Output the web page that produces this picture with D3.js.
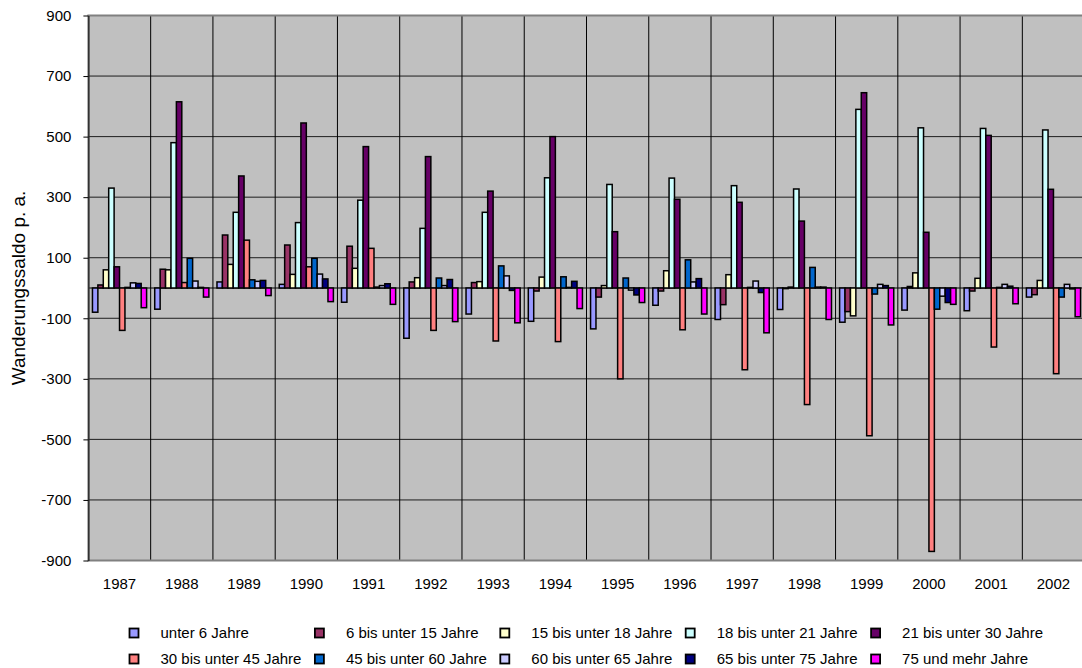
<!DOCTYPE html>
<html>
<head>
<meta charset="utf-8">
<script src="https://cdn.jsdelivr.net/npm/d3@7"></script>
<style>
  body { margin: 0; background: #fff; }
  svg { display: block; font-family: "Liberation Sans", Arial, sans-serif; }
  .tick text { font-size: 15px; fill: #000; }
</style>
</head>
<body>
<svg id="chart" width="1082" height="668"></svg>
<script>
// Wanderungssaldo nach Altersgruppen
const years = ['1987','1988','1989','1990','1991','1992','1993','1994',
               '1995','1996','1997','1998','1999','2000','2001','2002'];

const seriesNames = ['unter 6 Jahre', '6 bis unter 15 Jahre', '15 bis unter 18 Jahre',
  '18 bis unter 21 Jahre', '21 bis unter 30 Jahre', '30 bis unter 45 Jahre',
  '45 bis unter 60 Jahre', '60 bis unter 65 Jahre', '65 bis unter 75 Jahre', '75 und mehr Jahre'];

const seriesColors = ['#9999FF','#993366','#FFFFCC','#CCFFFF','#660066',
                      '#FF8080','#0066CC','#CCCCFF','#000080','#FF00FF'];

const unter6   = [-80, -70, 20, 12, -47, -166, -86, -110, -135, -57, -104, -71, -113, -73, -75, -30];
const bis15    = [10, 62, 175, 142, 138, 20, 18, -10, -30, -10, -55, -2, -78, 5, -10, -22];
const bis18    = [60, 60, 78, 45, 65, 34, 21, 36, 8, 57, 44, 3, -92, 50, 32, 25];
const bis21    = [330, 480, 250, 216, 290, 197, 250, 364, 342, 363, 338, 327, 590, 529, 527, 522];
const bis30    = [70, 615, 370, 545, 467, 434, 320, 500, 186, 293, 283, 221, 645, 184, 504, 326];
const bis45    = [-140, 18, 158, 70, 131, -140, -175, -177, -300, -138, -270, -385, -488, -870, -195, -283];
const bis60    = [2, 98, 27, 98, 3, 33, 73, 37, 33, 93, 2, 68, -20, -70, 2, -30];
const bis65    = [17, 23, 22, 46, 8, 8, 40, 2, -7, 20, 23, 3, 12, -27, 12, 12];
const bis75    = [15, 2, 25, 30, 14, 28, -8, 22, -23, 31, -15, 3, 8, -48, 6, -3];
const ab75     = [-65, -30, -25, -45, -54, -111, -115, -68, -48, -86, -148, -104, -122, -54, -52, -95];

const seriesValues = [unter6, bis15, bis18, bis21, bis30, bis45, bis60, bis65, bis75, ab75];

const yTicks = [-900, -700, -500, -300, -100, 100, 300, 500, 700, 900];

// layout
const svg = d3.select('#chart');
const plot = {left: 88.4, right: 1084.6, top: 15.5, bottom: 560.5};

const xScale = d3.scaleBand().domain(years).range([plot.left, plot.right]).padding(0);
const xInner = d3.scaleBand().domain(d3.range(seriesNames.length))
                 .range([0, xScale.bandwidth()]).paddingInner(0).paddingOuter(0.75);
const yScale = d3.scaleLinear().domain([-900, 900]).range([plot.bottom, plot.top]);

// plot background
svg.append('rect')
   .attr('x', plot.left).attr('y', plot.top)
   .attr('width', plot.right - plot.left).attr('height', plot.bottom - plot.top)
   .attr('fill', '#C0C0C0');

// horizontal gridlines
svg.append('g').selectAll('line')
   .data(yTicks.filter(d => d > -900 && d < 900))
   .join('line')
   .attr('x1', plot.left).attr('x2', plot.right)
   .attr('y1', d => yScale(d)).attr('y2', d => yScale(d))
   .attr('stroke', '#000').attr('stroke-width', 1).attr('stroke-opacity', 0.85);

// vertical gridlines (category boundaries)
svg.append('g').selectAll('line')
   .data(years.slice(1))
   .join('line')
   .attr('x1', d => xScale(d)).attr('x2', d => xScale(d))
   .attr('y1', plot.top).attr('y2', plot.bottom)
   .attr('stroke', '#000').attr('stroke-width', 1);

// zero line
svg.append('line')
   .attr('x1', plot.left).attr('x2', plot.right)
   .attr('y1', yScale(0)).attr('y2', yScale(0))
   .attr('stroke', '#000').attr('stroke-width', 1);

// bars
const groups = svg.append('g').selectAll('g')
   .data(years)
   .join('g')
   .attr('transform', d => `translate(${xScale(d)},0)`);

groups.selectAll('rect')
   .data((d, yi) => seriesValues.map((vals, si) => ({si, v: vals[yi]})))
   .join('rect')
   .attr('x', d => xInner(d.si))
   .attr('width', xInner.bandwidth())
   .attr('y', d => yScale(Math.max(0, d.v)))
   .attr('height', d => Math.abs(yScale(d.v) - yScale(0)))
   .attr('fill', d => seriesColors[d.si])
   .attr('stroke', '#000').attr('stroke-width', 1.5);

// plot border top/bottom
svg.append('rect')
   .attr('x', plot.left).attr('y', plot.top)
   .attr('width', plot.right - plot.left).attr('height', plot.bottom - plot.top)
   .attr('fill', 'none').attr('stroke', '#808080').attr('stroke-width', 2);

// y axis
const yAxis = d3.axisLeft(yScale).tickValues(yTicks).tickFormat(d => String(d))
                .tickSize(5).tickSizeOuter(0).tickPadding(12);
const yAxisG = svg.append('g').attr('transform', `translate(${plot.left},0)`).call(yAxis);
yAxisG.select('.domain').attr('stroke', '#000');
yAxisG.selectAll('.tick line').attr('stroke', '#000');

// x axis labels
const xAxis = d3.axisBottom(xScale).tickSize(0).tickPadding(18);
const xAxisG = svg.append('g').attr('transform', `translate(0,${plot.bottom})`).call(xAxis);
xAxisG.select('.domain').remove();

// y title
svg.append('text')
   .attr('transform', `translate(25,${yScale(0)}) rotate(-90)`)
   .attr('text-anchor', 'middle')
   .style('font-size', '19px')
   .text('Wanderungssaldo p. a.');

// legend
const legend = svg.append('g');
const legItems = legend.selectAll('g')
   .data(seriesNames)
   .join('g')
   .attr('transform', (d, i) => `translate(${129.5 + (i % 5) * 185.4},${633 + Math.floor(i / 5) * 26})`);

legItems.append('rect')
   .attr('x', 0).attr('y', -4.5).attr('width', 9).attr('height', 9)
   .attr('fill', (d, i) => seriesColors[i])
   .attr('stroke', '#000').attr('stroke-width', 1.8);

legItems.append('text')
   .attr('x', 31).attr('y', 0).attr('dy', '0.35em')
   .style('font-size', '15px')
   .text(d => d);
</script>
</body>
</html>
